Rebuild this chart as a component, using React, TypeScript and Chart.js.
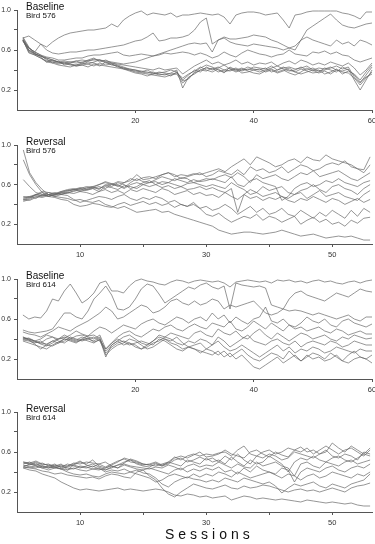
import React, { useEffect, useRef } from 'react';
import { Chart, registerables } from 'chart.js';
Chart.register(...registerables);

// ---------- Baseline, Bird 576 (sessions 1..60) ----------
const b576_1 = [.72,.74,.70,.66,.63,.68,.72,.75,.77,.78, .79,.80,.80,.81,.82,.86,.83,.90,.94,.97, .99,.95,.97,.96,.95,.97,.93,.95,.95,.96, .97,.96,.95,.96,.93,.86,.95,.97,.98,.98, .97,.95,.96,.97,.90,.82,.95,.96,.98,.99, .99,.99,.99,.99,.97,.96,.94,.91,.98,.98];
const b576_2 = [.70,.62,.58,.66,.60,.57,.56,.57,.58,.58, .59,.60,.60,.61,.62,.63,.64,.65,.67,.69, .70,.73,.77,.69,.70,.72,.72,.73,.75,.80, .88,.92,.66,.70,.73,.71,.71,.72,.73,.75, .74,.73,.70,.68,.65,.62,.60,.70,.80,.84, .88,.92,.96,.90,.85,.83,.82,.84,.86,.87];
const b576_3 = [.69,.62,.58,.55,.53,.52,.50,.50,.51,.52, .52,.54,.55,.55,.56,.57,.58,.55,.54,.55, .56,.55,.54,.56,.58,.60,.62,.64,.66,.67, .66,.67,.58,.70,.72,.68,.66,.65,.64,.66, .65,.64,.63,.62,.60,.62,.64,.70,.73,.70, .68,.66,.64,.70,.66,.68,.64,.70,.68,.65];
const b576_4 = [.70,.60,.56,.54,.52,.50,.48,.49,.48,.47, .48,.49,.50,.50,.49,.48,.47,.46,.47,.48, .50,.52,.54,.55,.57,.56,.57,.58,.57,.55, .57,.55,.52,.54,.58,.55,.53,.57,.60,.58, .56,.55,.53,.55,.56,.60,.56,.55,.54,.58, .57,.59,.56,.58,.55,.54,.50,.48,.50,.52];
const b576_5 = [.72,.62,.58,.55,.50,.49,.47,.48,.46,.45, .46,.48,.47,.45,.44,.43,.42,.41,.40,.39, .38,.37,.38,.36,.35,.37,.40,.22,.33,.36, .40,.42,.41,.43,.40,.42,.39,.41,.40,.43, .42,.41,.44,.40,.42,.43,.41,.42,.44,.40, .42,.41,.43,.40,.39,.41,.30,.20,.30,.40];
const b576_6 = [.70,.58,.55,.52,.49,.48,.46,.47,.45,.44, .45,.46,.48,.50,.47,.46,.44,.42,.41,.40, .39,.38,.36,.37,.38,.40,.38,.29,.31,.38, .42,.45,.43,.40,.38,.40,.42,.39,.41,.40, .38,.40,.42,.44,.41,.39,.40,.43,.40,.42, .39,.40,.42,.44,.41,.43,.33,.27,.35,.43];
const b576_7 = [.71,.60,.57,.53,.48,.50,.48,.46,.47,.49, .47,.50,.52,.48,.50,.47,.45,.43,.41,.40, .38,.40,.37,.35,.36,.34,.38,.30,.35,.40, .38,.43,.40,.42,.45,.41,.38,.40,.43,.41, .40,.42,.38,.40,.43,.40,.38,.41,.39,.37, .38,.42,.40,.38,.43,.40,.35,.28,.33,.36];
const b576_8 = [.70,.57,.55,.52,.48,.47,.45,.44,.43,.45, .47,.46,.44,.47,.45,.46,.43,.42,.40,.38, .37,.36,.35,.34,.33,.35,.36,.27,.32,.37, .40,.39,.42,.38,.40,.39,.41,.37,.38,.40, .41,.38,.40,.37,.39,.42,.38,.36,.38,.40, .37,.39,.36,.40,.38,.37,.32,.25,.32,.38];
const b576_9 = [.69,.59,.56,.54,.51,.47,.49,.45,.46,.44, .45,.43,.46,.44,.48,.45,.44,.41,.39,.37, .36,.34,.36,.38,.37,.36,.37,.32,.36,.39, .43,.40,.38,.41,.37,.43,.40,.42,.39,.37, .36,.39,.41,.38,.40,.37,.35,.38,.42,.39, .40,.36,.38,.41,.36,.39,.36,.30,.38,.45];
const b576_10 = [.73,.63,.56,.54,.52,.50,.48,.47,.48,.49, .50,.49,.51,.50,.48,.47,.46,.45,.44,.43, .42,.41,.40,.42,.40,.41,.42,.36,.40,.44, .47,.50,.46,.48,.45,.47,.50,.46,.48,.45, .47,.46,.48,.44,.47,.49,.46,.50,.48,.45, .47,.45,.48,.46,.44,.47,.42,.35,.40,.47];

// ---------- Reversal, Bird 576 (sessions 1..56) ----------
const r576_1 = [.95,.72,.62,.55,.50,.49,.52,.54,.55,.57, .56,.58,.60,.62,.60,.63,.62,.64,.70,.65, .66,.68,.70,.72,.68,.70,.69,.71,.70,.72, .74,.76,.73,.78,.82,.86,.80,.88,.85,.82, .78,.80,.84,.86,.82,.88,.85,.84,.90,.86, .84,.82,.80,.76,.75,.88];
const r576_2 = [.85,.70,.60,.52,.48,.50,.51,.53,.55,.56, .58,.57,.60,.63,.61,.58,.62,.66,.64,.67, .68,.66,.70,.72,.70,.66,.68,.70,.72,.68, .70,.74,.72,.70,.75,.70,.78,.74,.76,.72, .74,.78,.72,.76,.80,.78,.74,.76,.80,.82, .80,.84,.78,.76,.72,.80];
const r576_3 = [.65,.58,.52,.50,.48,.50,.52,.51,.54,.56, .55,.57,.56,.59,.61,.60,.57,.62,.66,.63, .62,.65,.68,.66,.64,.67,.66,.62,.64,.66, .65,.68,.70,.67,.72,.68,.62,.70,.66,.68, .70,.66,.64,.68,.72,.70,.74,.68,.70,.72, .74,.70,.66,.64,.68,.72];
const r576_4 = [.46,.48,.50,.53,.52,.50,.53,.55,.56,.54, .57,.58,.55,.60,.58,.62,.60,.56,.58,.62, .64,.60,.63,.62,.66,.64,.62,.65,.63,.64, .66,.64,.62,.68,.60,.58,.64,.66,.62,.60, .58,.44,.48,.56,.60,.62,.58,.60,.64,.62, .66,.62,.60,.58,.62,.64];
const r576_5 = [.44,.46,.50,.49,.52,.51,.53,.54,.55,.53, .55,.56,.58,.56,.60,.59,.56,.60,.62,.60, .62,.63,.60,.62,.60,.58,.61,.62,.60,.58, .60,.58,.56,.62,.58,.55,.50,.52,.58,.54, .56,.58,.52,.50,.54,.56,.60,.55,.52,.58, .60,.56,.54,.50,.56,.60];
const r576_6 = [.48,.47,.49,.52,.50,.48,.50,.52,.53,.55, .54,.56,.53,.58,.57,.55,.59,.58,.56,.60, .58,.60,.57,.59,.56,.58,.55,.56,.58,.55, .57,.54,.52,.56,.32,.50,.55,.52,.48,.50, .52,.48,.46,.50,.52,.46,.50,.54,.48,.50, .52,.48,.46,.44,.50,.54];
const r576_7 = [.43,.45,.48,.47,.49,.51,.50,.52,.51,.53, .52,.50,.53,.55,.52,.54,.51,.55,.53,.56, .54,.52,.56,.54,.50,.52,.54,.50,.52,.49, .50,.47,.52,.48,.45,.50,.46,.48,.44,.47, .45,.48,.44,.42,.46,.44,.48,.45,.42,.46, .44,.40,.43,.46,.42,.45];
const r576_8 = [.45,.47,.50,.48,.50,.52,.50,.49,.45,.42, .44,.46,.48,.47,.45,.48,.50,.46,.44,.47, .45,.48,.46,.42,.44,.40,.38,.40,.36,.38, .34,.36,.40,.36,.30,.34,.38,.32,.36,.30, .32,.36,.30,.28,.34,.30,.26,.32,.28,.34, .30,.26,.34,.28,.36,.32];
const r576_9 = [.47,.48,.46,.50,.48,.47,.45,.44,.40,.38, .39,.41,.40,.38,.37,.40,.42,.39,.41,.43, .40,.42,.39,.41,.37,.40,.38,.42,.36,.30, .28,.31,.26,.22,.25,.28,.26,.30,.24,.28, .26,.22,.25,.28,.20,.24,.27,.22,.25,.20, .22,.18,.24,.21,.26,.27];
const r576_10 = [.45,.44,.47,.49,.50,.48,.47,.46,.44,.45, .43,.42,.44,.40,.38,.36,.38,.35,.32,.33, .34,.35,.32,.33,.30,.28,.26,.24,.22,.20, .18,.14,.12,.10,.11,.12,.12,.11,.10,.11, .12,.14,.12,.10,.08,.09,.10,.08,.06,.07, .08,.07,.08,.06,.04,.04];

// ---------- Baseline, Bird 614 (sessions 1..60) ----------
const b614_1 = [.64,.60,.62,.61,.68,.80,.78,.88,.95,.86, .76,.80,.86,.96,.98,.88,.88,.86,.93,.98, 1.0,.98,.97,.95,.94,.97,.99,.98,.96,.98, .99,.98,.97,.98,.96,.92,.97,.98,.99,.98, .97,.98,.96,.99,.98,.99,.97,.98,.96,.98, .99,.97,.98,.96,.95,.97,.98,.96,.98,.99];
const b614_2 = [.49,.47,.46,.47,.48,.50,.58,.66,.66,.62, .60,.68,.80,.86,.93,.84,.70,.69,.72,.80, .90,.95,.93,.85,.76,.80,.84,.88,.92,.90, .94,.96,.92,.90,.93,.70,.96,.94,.93,.92, .93,.91,.74,.72,.70,.80,.86,.88,.84,.82, .80,.78,.82,.86,.84,.82,.86,.90,.88,.87];
const b614_3 = [.47,.45,.44,.42,.45,.48,.52,.50,.48,.52, .55,.58,.62,.66,.72,.68,.60,.62,.66,.70, .74,.72,.66,.68,.72,.78,.80,.76,.74,.78, .74,.76,.80,.78,.70,.74,.72,.74,.76,.78, .72,.66,.64,.66,.70,.68,.69,.68,.66,.64, .66,.64,.62,.60,.62,.64,.60,.58,.62,.62];
const b614_4 = [.42,.40,.38,.40,.44,.42,.40,.41,.44,.48, .45,.43,.48,.52,.50,.46,.50,.54,.52,.50, .55,.58,.60,.56,.54,.58,.62,.60,.56,.60, .62,.58,.66,.60,.64,.56,.62,.58,.55,.60, .62,.72,.58,.56,.60,.54,.52,.56,.62,.58, .56,.60,.54,.52,.58,.60,.56,.54,.52,.55];
const b614_5 = [.40,.39,.37,.36,.40,.42,.38,.36,.40,.43, .44,.42,.40,.44,.30,.36,.42,.46,.48,.44, .42,.46,.50,.48,.52,.54,.50,.48,.52,.55, .52,.50,.56,.54,.52,.58,.50,.48,.52,.58, .54,.50,.56,.52,.48,.54,.50,.52,.48,.50, .52,.48,.46,.50,.48,.44,.46,.48,.45,.45];
const b614_6 = [.40,.41,.38,.35,.33,.36,.40,.42,.40,.38, .40,.43,.44,.40,.22,.34,.38,.42,.44,.40, .36,.34,.38,.44,.42,.46,.44,.42,.40,.46, .48,.44,.42,.50,.46,.44,.48,.42,.40,.46, .50,.44,.40,.46,.42,.38,.42,.46,.44,.40, .42,.44,.40,.38,.42,.40,.44,.42,.40,.41];
const b614_7 = [.39,.38,.36,.38,.34,.33,.36,.38,.42,.40, .38,.40,.42,.38,.26,.32,.36,.38,.36,.34, .30,.32,.36,.38,.42,.40,.36,.34,.38,.36, .40,.38,.34,.42,.38,.32,.36,.40,.44,.38, .36,.34,.38,.40,.36,.34,.38,.32,.36,.38, .36,.34,.38,.36,.32,.34,.38,.36,.34,.34];
const b614_8 = [.41,.40,.38,.36,.35,.38,.40,.44,.41,.39, .42,.40,.38,.42,.24,.30,.34,.36,.40,.38, .34,.30,.32,.36,.40,.38,.42,.36,.32,.34, .36,.30,.34,.38,.32,.28,.30,.34,.30,.26, .22,.26,.30,.34,.28,.32,.26,.30,.28,.32, .30,.26,.28,.32,.30,.28,.26,.30,.28,.28];
const b614_9 = [.38,.36,.34,.32,.30,.34,.37,.40,.38,.36, .40,.38,.36,.40,.28,.34,.38,.34,.36,.32, .30,.34,.38,.42,.40,.36,.34,.30,.32,.30, .26,.30,.28,.24,.28,.22,.26,.30,.24,.20, .18,.22,.26,.24,.20,.28,.22,.18,.24,.20, .22,.18,.20,.24,.18,.16,.20,.22,.20,.16];
const b614_10 = [.42,.39,.35,.30,.34,.38,.36,.40,.39,.37, .39,.41,.37,.39,.30,.36,.40,.37,.34,.36, .38,.36,.34,.40,.38,.34,.30,.28,.32,.30, .28,.26,.24,.28,.22,.26,.20,.24,.18,.12, .10,.14,.18,.22,.16,.20,.24,.18,.22,.26, .24,.20,.26,.22,.18,.24,.28,.22,.20,.24];

// ---------- Reversal, Bird 614 (sessions 1..56) ----------
const r614_1 = [.50,.49,.51,.48,.47,.46,.48,.42,.47,.50, .48,.52,.46,.44,.47,.50,.54,.52,.50,.48, .47,.46,.48,.50,.55,.52,.56,.58,.56,.58, .57,.59,.60,.56,.62,.66,.58,.56,.60,.62, .58,.60,.64,.62,.65,.60,.62,.58,.60,.69, .64,.60,.66,.62,.58,.64];
const r614_2 = [.49,.48,.50,.47,.48,.45,.47,.46,.49,.48, .50,.49,.48,.45,.48,.51,.53,.50,.49,.47, .48,.50,.47,.49,.54,.56,.54,.57,.60,.55, .56,.58,.62,.58,.56,.54,.60,.62,.58,.55, .60,.57,.55,.62,.60,.64,.58,.62,.66,.62, .58,.62,.64,.60,.56,.62];
const r614_3 = [.48,.50,.47,.49,.46,.48,.44,.46,.48,.51, .47,.45,.48,.50,.46,.44,.49,.53,.51,.48, .47,.49,.46,.48,.52,.54,.50,.52,.55,.52, .54,.50,.56,.52,.58,.52,.48,.56,.54,.58, .56,.52,.54,.60,.58,.56,.54,.58,.62,.56, .54,.58,.56,.52,.60,.58];
const r614_4 = [.46,.47,.49,.45,.44,.47,.45,.48,.46,.44, .46,.48,.45,.42,.44,.47,.50,.52,.48,.46, .45,.48,.46,.50,.48,.46,.52,.50,.48,.54, .50,.52,.48,.55,.50,.46,.52,.48,.50,.56, .52,.48,.40,.50,.54,.52,.56,.52,.50,.54, .56,.52,.50,.54,.58,.56];
const r614_5 = [.45,.48,.46,.44,.46,.45,.43,.45,.47,.45, .44,.46,.43,.42,.45,.47,.48,.46,.45,.44, .43,.45,.44,.47,.45,.42,.46,.48,.45,.47, .46,.50,.47,.44,.48,.45,.44,.50,.46,.48, .50,.46,.44,.36,.48,.50,.46,.44,.50,.48, .46,.50,.52,.48,.50,.52];
const r614_6 = [.47,.45,.44,.46,.45,.44,.46,.44,.43,.46, .45,.43,.42,.44,.46,.44,.47,.45,.43,.42, .44,.42,.40,.38,.42,.44,.40,.43,.41,.44, .42,.45,.40,.42,.38,.44,.40,.46,.42,.40, .38,.44,.42,.30,.40,.44,.42,.40,.44,.46, .42,.40,.44,.46,.44,.48];
const r614_7 = [.44,.45,.46,.44,.42,.44,.43,.42,.44,.42, .41,.43,.44,.40,.42,.41,.43,.40,.38,.36, .34,.30,.32,.36,.38,.36,.34,.38,.35,.38, .36,.40,.38,.35,.40,.37,.34,.36,.38,.40, .37,.34,.38,.36,.32,.36,.38,.34,.36,.40, .38,.36,.34,.38,.36,.40];
const r614_8 = [.50,.48,.47,.46,.44,.45,.43,.40,.38,.37, .38,.36,.35,.38,.40,.39,.38,.40,.42,.39, .38,.34,.28,.25,.30,.33,.35,.33,.32,.30, .32,.30,.34,.32,.30,.34,.32,.30,.28,.30, .26,.19,.24,.28,.26,.28,.30,.26,.24,.28, .26,.24,.28,.30,.32,.38];
const r614_9 = [.45,.44,.43,.41,.40,.38,.39,.37,.36,.35, .34,.35,.33,.36,.38,.37,.35,.34,.40,.42, .36,.32,.24,.18,.15,.20,.24,.28,.26,.24, .23,.25,.27,.24,.23,.26,.24,.25,.27,.26, .24,.22,.20,.22,.23,.21,.22,.20,.22,.24, .22,.20,.24,.26,.27,.29];
const r614_10 = [.44,.42,.41,.38,.36,.34,.30,.27,.24,.22, .23,.22,.21,.22,.23,.24,.22,.23,.22,.21, .22,.23,.22,.20,.17,.16,.18,.17,.15,.16, .14,.15,.16,.12,.14,.16,.15,.13,.14,.13, .12,.13,.12,.11,.10,.12,.11,.10,.09,.10, .09,.08,.09,.07,.06,.06];

// ---------- axes ----------
const yTicks = [0.2, 0.4, 0.6, 0.8, 1.0];
const yLabeled = [0.2, 0.6, 1.0];
const xTicksBaseline = [20, 40, 60];
const xLabeledBaseline = [20, 40, 60];
const xTicksReversal = [10, 20, 30, 40, 50];
const xLabeledReversal = [10, 30, 50];

const FONT = '"Liberation Sans", Arial, Helvetica, sans-serif';
const LINE = 'rgba(100,100,100,0.85)';
const AXIS = '#555';

type PanelDef = {
  title: string;
  bird: string;
  lines: number[][];
  xMax: number;
  xTicks: number[];
  xLabeled: number[];
  chartTop: number;
  chartHeight: number;
  yMin: number;
};

const panels: PanelDef[] = [
  { title: 'Baseline', bird: 'Bird 576', lines: [b576_1, b576_2, b576_3, b576_4, b576_5, b576_6, b576_7, b576_8, b576_9, b576_10], xMax: 60, xTicks: xTicksBaseline, xLabeled: xLabeledBaseline, chartTop: 10, chartHeight: 100, yMin: 0 },
  { title: 'Reversal', bird: 'Bird 576', lines: [r576_1, r576_2, r576_3, r576_4, r576_5, r576_6, r576_7, r576_8, r576_9, r576_10], xMax: 56.3, xTicks: xTicksReversal, xLabeled: xLabeledReversal, chartTop: 145, chartHeight: 99, yMin: 0 },
  { title: 'Baseline', bird: 'Bird 614', lines: [b614_1, b614_2, b614_3, b614_4, b614_5, b614_6, b614_7, b614_8, b614_9, b614_10], xMax: 60, xTicks: xTicksBaseline, xLabeled: xLabeledBaseline, chartTop: 279, chartHeight: 100, yMin: 0 },
  { title: 'Reversal', bird: 'Bird 614', lines: [r614_1, r614_2, r614_3, r614_4, r614_5, r614_6, r614_7, r614_8, r614_9, r614_10], xMax: 56.3, xTicks: xTicksReversal, xLabeled: xLabeledReversal, chartTop: 412, chartHeight: 100, yMin: 0 },
];

const PAD_TOP = 10;
const X_AXIS_H = 20;

function Panel({ def }: { def: PanelDef }) {
  const ref = useRef<HTMLCanvasElement>(null);
  const canvasH = PAD_TOP + def.chartHeight + X_AXIS_H;
  useEffect(() => {
    if (!ref.current) return;
    const datasets = def.lines.map((line) => ({
      data: line.map((v, i) => ({ x: i + 1, y: v })),
      borderColor: LINE,
      borderWidth: 0.8,
      pointRadius: 0,
      tension: 0,
      fill: false,
      clip: false as any,
    }));
    const chart = new Chart(ref.current, {
      type: 'line',
      data: { datasets },
      options: {
        animation: false,
        responsive: false,
        events: [],
        layout: { padding: { top: PAD_TOP, left: 0, right: 3, bottom: 0 } },
        plugins: { legend: { display: false }, tooltip: { enabled: false }, title: { display: false } },
        scales: {
          x: {
            type: 'linear',
            min: 0,
            max: def.xMax,
            afterBuildTicks: (s: any) => { s.ticks = def.xTicks.map((v) => ({ value: v })); },
            afterFit: (s: any) => { s.height = X_AXIS_H; s.paddingLeft = 0; s.paddingRight = 0; },
            ticks: {
              autoSkip: false, maxRotation: 0, padding: 3, color: '#333',
              font: { family: FONT, size: 7.5 },
              callback: (v: any) => (def.xLabeled.includes(Number(v)) ? String(v) : ''),
            },
            grid: { drawOnChartArea: false, drawTicks: true, tickLength: 3, color: AXIS },
            border: { display: true, color: AXIS, width: 1 },
          },
          y: {
            type: 'linear',
            min: def.yMin,
            max: 1.0,
            afterBuildTicks: (s: any) => { s.ticks = yTicks.map((v) => ({ value: v })); },
            afterFit: (s: any) => { s.width = 17; s.paddingTop = 0; s.paddingBottom = 0; },
            ticks: {
              autoSkip: false, padding: 3, color: '#333',
              font: { family: FONT, size: 7 },
              callback: (v: any) => (yLabeled.some((t) => Math.abs(t - Number(v)) < 1e-6) ? Number(v).toFixed(1) : ''),
            },
            grid: { drawOnChartArea: false, drawTicks: true, tickLength: 3, color: AXIS },
            border: { display: true, color: AXIS, width: 1 },
          },
        },
      },
    } as any);
    return () => chart.destroy();
  }, [def]);

  return (
    <>
      <canvas
        ref={ref}
        width={375}
        height={canvasH}
        style={{ position: 'absolute', left: 0, top: def.chartTop - PAD_TOP, width: 375, height: canvasH }}
      />
      <div style={{ position: 'absolute', left: 26, top: def.chartTop - 8, fontFamily: FONT, fontSize: 10, lineHeight: 1, color: '#111', whiteSpace: 'nowrap' }}>
        {def.title}
      </div>
      <div style={{ position: 'absolute', left: 26, top: def.chartTop + 2.3, fontFamily: FONT, fontSize: 8, lineHeight: 1, color: '#111', whiteSpace: 'nowrap' }}>
        {def.bird}
      </div>
    </>
  );
}

export default function App() {
  return (
    <div style={{ position: 'absolute', left: 0, top: 0, width: 375, height: 544, background: '#fff', overflow: 'hidden' }}>
      {panels.map((p, i) => (
        <Panel key={i} def={p} />
      ))}
      <div style={{ position: 'absolute', left: 165, top: 526.5, fontFamily: FONT, fontSize: 14, lineHeight: 1, letterSpacing: '4px', color: '#111', whiteSpace: 'nowrap' }}>
        Sessions
      </div>
    </div>
  );
}
